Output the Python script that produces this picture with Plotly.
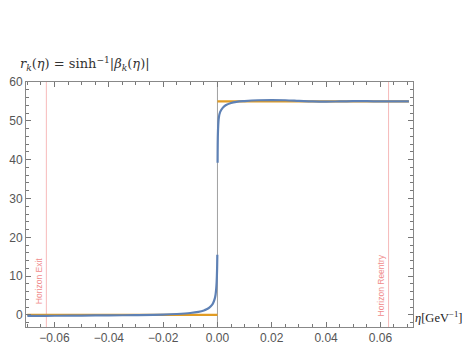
import plotly.graph_objects as go

# blue curve r_k(eta), left branch (eta < 0) and right branch (eta > 0)
eta_left = [-0.0700, -0.065, -0.06, -0.05, -0.04, -0.03, -0.02, -0.015, -0.01, -0.007,
            -0.005, -0.004, -0.003, -0.002, -0.0015, -0.001, -0.0007, -0.0005,
            -0.0003, -0.00015, -0.00005]
r_left = [-0.25, -0.22, -0.2, -0.15, -0.1, -0.03, 0.1, 0.25, 0.5, 0.8,
          1.15, 1.45, 1.9, 2.6, 3.2, 4.2, 5.2, 6.5, 8.5, 11.5, 15.5]

eta_right = [0.00005, 0.0002, 0.0005, 0.001, 0.002, 0.003, 0.005, 0.007, 0.01, 0.015,
             0.02, 0.025, 0.03, 0.035, 0.04, 0.045, 0.05, 0.055, 0.06, 0.065, 0.0705]
r_right = [39.2, 47.5, 50.8, 52.3, 53.4, 54.0, 54.6, 54.9, 55.1, 55.3,
           55.35, 55.3, 55.15, 55.0, 54.95, 55.0, 55.05, 55.05, 55.0, 55.0, 55.0]

# orange step reference
step_x_left = [-0.0700, 0.0]
step_y_left = [0, 0]
step_x_right = [0.0, 0.0705]
step_y_right = [55, 55]

horizon_exit = -0.063
horizon_reentry = 0.063

x_ticks = [-0.06, -0.04, -0.02, 0.0, 0.02, 0.04, 0.06]
x_labels = ["−0.06", "−0.04", "−0.02", "0.00", "0.02", "0.04", "0.06"]
y_ticks = [0, 10, 20, 30, 40, 50, 60]

orange = '#E19C24'
blue = '#5E81B5'
pink = 'rgba(238,130,130,0.55)'

fig = go.Figure()

fig.add_trace(go.Scatter(x=step_x_left, y=step_y_left, mode='lines',
                         line=dict(color=orange, width=2.2), showlegend=False))
fig.add_trace(go.Scatter(x=step_x_right, y=step_y_right, mode='lines',
                         line=dict(color=orange, width=2.2), showlegend=False))
fig.add_trace(go.Scatter(x=eta_left, y=r_left, mode='lines',
                         line=dict(color=blue, width=2.2, shape='spline'), showlegend=False))
fig.add_trace(go.Scatter(x=eta_right, y=r_right, mode='lines',
                         line=dict(color=blue, width=2.2, shape='spline'), showlegend=False))

fig.add_vline(x=0, line=dict(color='#a0a0a0', width=1), layer='below')
fig.add_vline(x=horizon_exit, line=dict(color=pink, width=1), layer='below')
fig.add_vline(x=horizon_reentry, line=dict(color=pink, width=1), layer='below')

fig.add_annotation(x=horizon_exit, y=8.8, text="Horizon Exit", textangle=-90,
                   showarrow=False, xanchor='right', xshift=-1,
                   font=dict(family="Liberation Sans", size=8.5, color='#f08c8c'))
fig.add_annotation(x=horizon_reentry, y=7.5, text="Horizon Reentry", textangle=-90,
                   showarrow=False, xanchor='right', xshift=-1,
                   font=dict(family="Liberation Sans", size=8.5, color='#f08c8c'))

fig.add_annotation(xref='paper', yref='paper', x=0, y=1.03, xanchor='left', yanchor='bottom',
                   xshift=-8,
                   text="<i>r</i><sub><i>k</i></sub>(<i>η</i>) = sinh<sup>−1</sup>|<i>β</i><sub><i>k</i></sub>(<i>η</i>)|",
                   showarrow=False, font=dict(family="DejaVu Serif", size=13, color='#333'))
fig.add_annotation(xref='paper', yref='paper', x=1, y=0.04, xanchor='left', yanchor='middle',
                   xshift=0, text="<i>η</i>[GeV<sup>−1</sup>]",
                   showarrow=False, font=dict(family="Liberation Serif", size=12.5, color='#222'))

axis_common = dict(
    showgrid=False, zeroline=False, showline=True, linecolor='#888', linewidth=1,
    mirror='allticks', ticks='inside', ticklen=5, tickcolor='#777', automargin=False,
    tickfont=dict(family="Liberation Sans", size=12, color='#555'),
)

fig.update_xaxes(range=[-0.0705, 0.072], tickvals=x_ticks, ticktext=x_labels,
                 minor=dict(ticks='inside', ticklen=3, dtick=0.005, tick0=0, tickcolor='#777'),
                 **axis_common)
fig.update_yaxes(range=[-3.1, 60], tickvals=y_ticks,
                 minor=dict(ticks='inside', ticklen=3, dtick=2, tick0=0, tickcolor='#777'),
                 **axis_common)

fig.update_layout(
    width=472, height=354,
    margin=dict(l=18, r=67, t=74, b=35),
    plot_bgcolor='white', paper_bgcolor='white',
    showlegend=False,
)

fig.write_html("out.html")
